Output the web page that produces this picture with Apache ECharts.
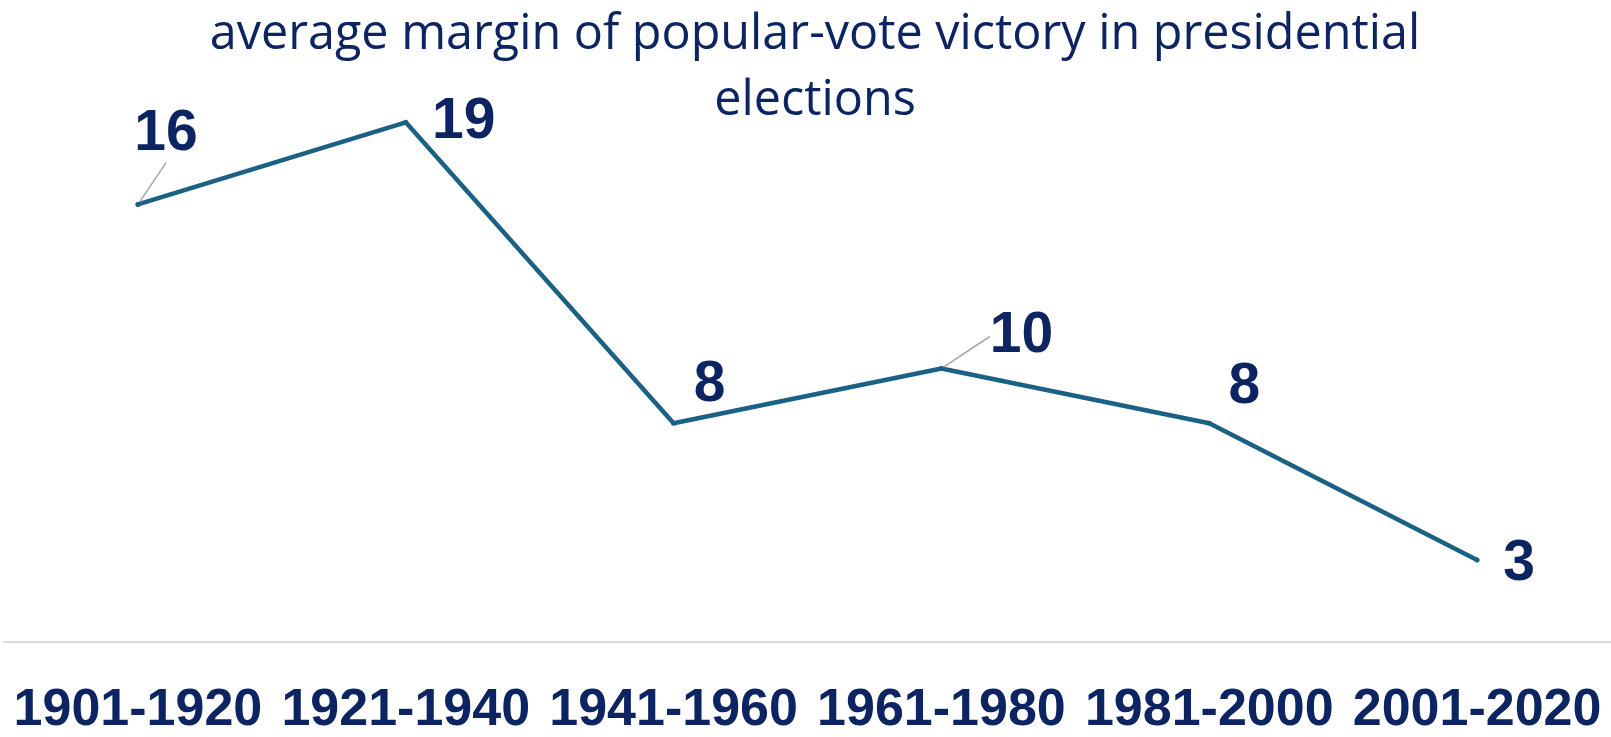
<!DOCTYPE html>
<html>
<head>
<meta charset="utf-8">
<script src="https://cdn.jsdelivr.net/npm/echarts@6/dist/echarts.min.js"></script>
<style>
  html, body { margin: 0; padding: 0; background: #fff; }
  #chart { width: 1611px; height: 737px; }
</style>
</head>
<body>
<div id="chart"></div>
<script>
// data
var periods = ['1901-1920', '1921-1940', '1941-1960', '1961-1980', '1981-2000', '2001-2020']
var margins = [16, 19, 8, 10, 8, 3]

// label nudges (dx, dy) from each point, and which ones get a leader line
var labelShift = [[28, -70], [58, 0], [36, -38], [80, -32], [35, -36], [42, 4]]
var withLeader = [true, false, false, true, false, false]

var navy = '#0c2461'
var chart = echarts.init(document.getElementById('chart'))

var option = {
  animation: false,
  title: {
    text: 'average margin of popular-vote victory in presidential\nelections',
    left: 810,
    top: -3,
    textAlign: 'center',
    textStyle: {
      color: navy,
      fontFamily: 'Open Sans',
      fontWeight: 'normal',
      fontSize: 48.5,
      lineHeight: 66
    }
  },
  grid: { left: 4, right: -5, top: 95, bottom: 89 },
  xAxis: {
    type: 'category',
    data: periods,
    axisLine: { lineStyle: { color: '#d9d9d9', width: 2 } },
    axisTick: { show: false },
    axisLabel: {
      interval: 0,
      margin: 43,
      color: navy,
      fontFamily: 'Liberation Sans',
      fontWeight: 'bold',
      fontSize: 52
    }
  },
  yAxis: {
    type: 'value',
    min: 0,
    max: 20,
    show: false
  },
  series: [{
    type: 'line',
    data: margins.map(function (v, i) {
      return {
        value: v,
        labelLine: { show: withLeader[i] }
      }
    }),
    symbol: 'circle',
    symbolSize: 5,
    itemStyle: { color: '#1a6185' },
    lineStyle: { color: '#1a6185', width: 4.5, cap: 'round' },
    label: {
      show: true,
      position: 'inside',
      color: navy,
      fontFamily: 'Liberation Sans',
      fontWeight: 'bold',
      fontSize: 57
    },
    labelLine: {
      lineStyle: { color: '#a6a6a6', width: 1.5 }
    },
    labelLayout: function (p) {
      var s = labelShift[p.dataIndex]
      return { dx: s[0], dy: s[1] }
    }
  }]
}
chart.setOption(option)
</script>
</body>
</html>
